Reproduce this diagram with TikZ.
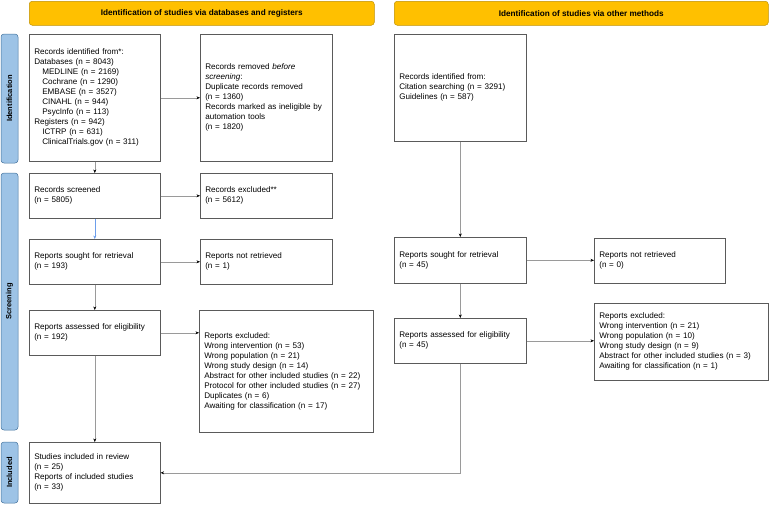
\documentclass[tikz,border=0pt]{standalone}
\usepackage{fontspec}
\setmainfont{Liberation Sans}
\usepackage{xcolor}
\definecolor{prisma-gold}{HTML}{FFC000}
\definecolor{prisma-gold-edge}{HTML}{BF9000}
\definecolor{prisma-blue}{HTML}{9DC3E6}
\definecolor{prisma-blue-edge}{HTML}{41719C}
\definecolor{prisma-box}{HTML}{5A5A5A}
\definecolor{prisma-line}{HTML}{9A9A9A}
\definecolor{prisma-link}{HTML}{6D9EEB}
\usetikzlibrary{arrows.meta}

\begin{document}
\begin{tikzpicture}[x=1pt, y=-1pt,
    header/.style={draw=prisma-gold-edge, fill=prisma-gold, rounded corners=3pt, line width=0.5pt, anchor=north west, font=\fontsize{8.2}{10}\selectfont\bfseries},
    phase/.style={draw=prisma-blue-edge, fill=prisma-blue, rounded corners=3pt, line width=0.5pt, rotate=90, minimum height=17pt, inner sep=0pt, font=\fontsize{7.5}{9}\selectfont\bfseries},
    record/.style={draw=prisma-box, line width=0.6pt, anchor=north west, align=left, inner xsep=5pt, inner ysep=2pt, font=\fontsize{8.1}{10}\selectfont},
    flow/.style={draw=prisma-line, line width=0.6pt, -{Stealth[black,length=3.5pt,width=3pt]}}]

    \useasboundingbox (0, 0) rectangle (769, 504);

    % Headers
    \node[header, minimum width=345pt, minimum height=24pt] (hdrdb) at (29, 1) {Identification of studies via databases and registers};
    \node[header, minimum width=374pt, minimum height=24pt] (hdroth) at (394, 1) {Identification of studies via other methods};

    % Phases
    \node[phase, minimum width=129pt] (identification) at (9.5, 98.5) {Identification};
    \node[phase, minimum width=257pt] (screening) at (9.5, 301.5) {Screening};
    \node[phase, minimum width=61pt] (included) at (9.5, 472.5) {Included};

    % Databases and registers
    \node[record, text width=121pt, minimum height=127pt] (dbrec) at (29, 34) {Records identified from*:\\Databases (n = 8043)\\\hspace*{8pt}MEDLINE (n = 2169)\\\hspace*{8pt}Cochrane (n = 1290)\\\hspace*{8pt}EMBASE (n = 3527)\\\hspace*{8pt}CINAHL (n = 944)\\\hspace*{8pt}PsycInfo (n = 113)\\Registers (n = 942)\\\hspace*{8pt}ICTRP (n = 631)\\\hspace*{8pt}ClinicalTrials.gov (n = 311)};
    \node[record, text width=122pt, minimum height=127pt] (dbremoved) at (200, 34) {Records removed \textit{before}\\\textit{screening}:\\Duplicate records removed\\(n = 1360)\\Records marked as ineligible by\\automation tools\\(n = 1820)};

    \node[record, text width=121pt, minimum height=45pt] (screened) at (29, 173) {Records screened\\(n = 5805)};
    \node[record, text width=122pt, minimum height=45pt] (excluded) at (200, 173) {Records excluded**\\(n = 5612)};

    \node[record, text width=121pt, minimum height=45pt] (soughtdb) at (29, 239) {Reports sought for retrieval\\(n = 193)};
    \node[record, text width=122pt, minimum height=45pt] (notretdb) at (200, 239) {Reports not retrieved\\(n = 1)};

    \node[record, text width=121pt, minimum height=45pt] (assessdb) at (29, 310) {Reports assessed for eligibility\\(n = 192)};
    \node[record, text width=164pt, minimum height=122pt] (excldb) at (199, 310) {Reports excluded:\\Wrong intervention (n = 53)\\Wrong population (n = 21)\\Wrong study design (n = 14)\\Abstract for other included studies (n = 22)\\Protocol for other included studies (n = 27)\\Duplicates (n = 6)\\Awaiting for classification (n = 17)};

    \node[record, text width=121pt, minimum height=61pt] (studies) at (29, 442) {Studies included in review\\(n = 25)\\Reports of included studies\\(n = 33)};

    % Other methods
    \node[record, text width=122pt, minimum height=107pt] (othrec) at (394, 34) {Records identified from:\\Citation searching (n = 3291)\\Guidelines (n = 587)};

    \node[record, text width=122pt, minimum height=46pt] (soughtoth) at (394, 237) {Reports sought for retrieval\\(n = 45)};
    \node[record, text width=121pt, minimum height=45pt] (notretoth) at (594, 238) {Reports not retrieved\\(n = 0)};

    \node[record, text width=122pt, minimum height=45pt] (assessoth) at (394, 318) {Reports assessed for eligibility\\(n = 45)};
    \node[record, text width=164pt, minimum height=77pt] (excloth) at (594, 303) {Reports excluded:\\Wrong intervention (n = 21)\\Wrong population (n = 10)\\Wrong study design (n = 9)\\Abstract for other included studies (n = 3)\\Awaiting for classification (n = 1)};

    % Connectors
    \draw[flow] (dbrec) -- (dbremoved);
    \draw[flow] (dbrec) -- (screened);
    \draw[flow] (screened) -- (excluded);
    \draw[flow, draw=prisma-link, -{Stealth[prisma-link,length=3.5pt,width=3pt]}] (screened) -- (soughtdb);
    \draw[flow] (soughtdb) -- (notretdb);
    \draw[flow] (soughtdb) -- (assessdb);
    \draw[flow] (assessdb.east) -- (assessdb.east -| excldb.west);
    \draw[flow] (assessdb) -- (studies);

    \draw[flow] (othrec) -- (soughtoth);
    \draw[flow] (soughtoth.east) -- (soughtoth.east -| notretoth.west);
    \draw[flow] (soughtoth) -- (assessoth);
    \draw[flow] (assessoth.east) -- (assessoth.east -| excloth.west);
    \draw[flow] (assessoth.south) |- (studies.east);

\end{tikzpicture}
\end{document}
